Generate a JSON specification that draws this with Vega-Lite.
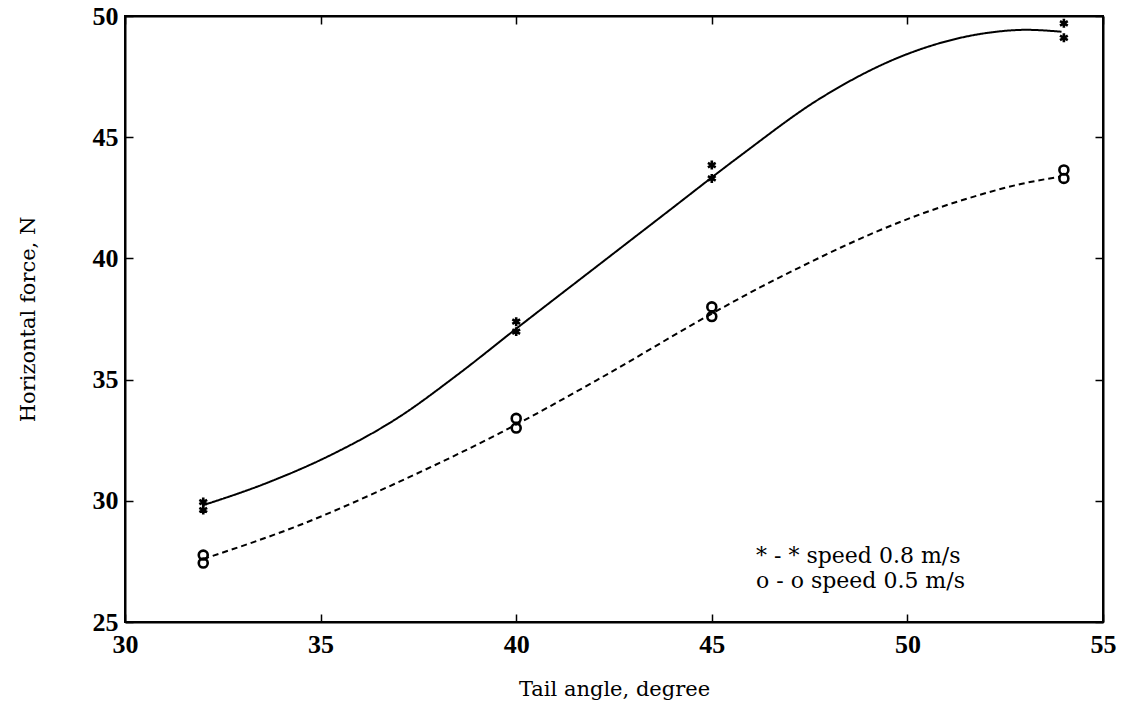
{
  "$schema": "https://vega.github.io/schema/vega-lite/v6.json",
  "width": 978,
  "height": 606,
  "autosize": {"type": "none"},
  "padding": {"left": 125, "top": 16, "right": 24, "bottom": 91},
  "background": "white",
  "config": {
    "view": {"stroke": "black", "strokeWidth": 2},
    "axis": {
      "grid": false,
      "domainColor": "black",
      "domainWidth": 2,
      "tickColor": "black",
      "tickWidth": 1.5,
      "tickSize": -8,
      "labelFlush": false,
      "labelFont": "Liberation Serif",
      "labelFontWeight": "bold",
      "labelFontSize": 26,
      "labelColor": "black",
      "titleFont": "DejaVu Serif",
      "titleFontSize": 21,
      "titleFontWeight": "normal",
      "titleColor": "black"
    }
  },
  "datasets": {
    "curves": [
      {"series": "speed 0.8 m/s", "angle": 32.0, "force": 29.82},
      {"series": "speed 0.8 m/s", "angle": 33.6, "force": 30.72},
      {"series": "speed 0.8 m/s", "angle": 35.3, "force": 31.92},
      {"series": "speed 0.8 m/s", "angle": 37.0, "force": 33.45},
      {"series": "speed 0.8 m/s", "angle": 38.5, "force": 35.2},
      {"series": "speed 0.8 m/s", "angle": 40.0, "force": 37.1},
      {"series": "speed 0.8 m/s", "angle": 42.1, "force": 39.72},
      {"series": "speed 0.8 m/s", "angle": 43.85, "force": 41.9},
      {"series": "speed 0.8 m/s", "angle": 45.7, "force": 44.2},
      {"series": "speed 0.8 m/s", "angle": 47.77, "force": 46.6},
      {"series": "speed 0.8 m/s", "angle": 49.98, "force": 48.42},
      {"series": "speed 0.8 m/s", "angle": 52.03, "force": 49.3},
      {"series": "speed 0.8 m/s", "angle": 53.05, "force": 49.43},
      {"series": "speed 0.8 m/s", "angle": 53.94, "force": 49.35},
      {"series": "speed 0.5 m/s", "angle": 32.0, "force": 27.6},
      {"series": "speed 0.5 m/s", "angle": 34.47, "force": 29.0},
      {"series": "speed 0.5 m/s", "angle": 37.03, "force": 30.8},
      {"series": "speed 0.5 m/s", "angle": 39.59, "force": 32.8},
      {"series": "speed 0.5 m/s", "angle": 42.14, "force": 35.05},
      {"series": "speed 0.5 m/s", "angle": 45.0, "force": 37.72},
      {"series": "speed 0.5 m/s", "angle": 46.23, "force": 38.8},
      {"series": "speed 0.5 m/s", "angle": 47.5, "force": 39.83},
      {"series": "speed 0.5 m/s", "angle": 48.3, "force": 40.45},
      {"series": "speed 0.5 m/s", "angle": 50.0, "force": 41.62},
      {"series": "speed 0.5 m/s", "angle": 51.7, "force": 42.55},
      {"series": "speed 0.5 m/s", "angle": 52.9, "force": 43.07},
      {"series": "speed 0.5 m/s", "angle": 53.9, "force": 43.37}
    ],
    "measurements": [
      {"series": "speed 0.8 m/s", "angle": 32, "force": 29.95},
      {"series": "speed 0.8 m/s", "angle": 32, "force": 29.62},
      {"series": "speed 0.8 m/s", "angle": 40, "force": 37.39},
      {"series": "speed 0.8 m/s", "angle": 40, "force": 36.98},
      {"series": "speed 0.8 m/s", "angle": 45, "force": 43.85},
      {"series": "speed 0.8 m/s", "angle": 45, "force": 43.3},
      {"series": "speed 0.8 m/s", "angle": 54, "force": 49.7},
      {"series": "speed 0.8 m/s", "angle": 54, "force": 49.1},
      {"series": "speed 0.5 m/s", "angle": 32, "force": 27.76},
      {"series": "speed 0.5 m/s", "angle": 32, "force": 27.43},
      {"series": "speed 0.5 m/s", "angle": 40, "force": 33.4},
      {"series": "speed 0.5 m/s", "angle": 40, "force": 33.0},
      {"series": "speed 0.5 m/s", "angle": 45, "force": 38.0},
      {"series": "speed 0.5 m/s", "angle": 45, "force": 37.6},
      {"series": "speed 0.5 m/s", "angle": 54, "force": 43.65},
      {"series": "speed 0.5 m/s", "angle": 54, "force": 43.3}
    ]
  },
  "layer": [
    {
      "data": {"name": "curves"},
      "mark": {"type": "line", "interpolate": "monotone", "strokeWidth": 2, "color": "black"},
      "encoding": {
        "x": {
          "field": "angle", "type": "quantitative",
          "scale": {"domain": [30, 55], "nice": false, "zero": false},
          "axis": {"orient": "bottom", "title": "Tail angle, degree", "values": [30, 35, 40, 45, 50, 55], "labelPadding": 17, "titlePadding": 21}
        },
        "y": {
          "field": "force", "type": "quantitative",
          "scale": {"domain": [25, 50], "nice": false, "zero": false},
          "axis": {"orient": "left", "title": "Horizontal force, N", "values": [25, 30, 35, 40, 45, 50], "labelPadding": 15, "titlePadding": 54}
        },
        "strokeDash": {
          "field": "series", "type": "nominal",
          "scale": {"domain": ["speed 0.8 m/s", "speed 0.5 m/s"], "range": [[1, 0], [6, 4]]},
          "legend": {
            "orient": "none",
            "legendX": 609,
            "legendY": 529,
            "title": null,
            "padding": 0,
            "symbolSize": 0,
            "symbolStrokeWidth": 0,
            "symbolOpacity": 0,
            "labelOffset": 0,
            "labelLimit": 0,
            "rowPadding": 3,
            "labelFont": "DejaVu Serif",
            "labelFontSize": 22,
            "labelColor": "black",
            "labelExpr": "datum.label == 'speed 0.8 m/s' ? '* - * speed 0.8 m/s' : 'o - o speed 0.5 m/s'"
          }
        }
      }
    },
    {
      "data": {"name": "measurements"},
      "mark": {"type": "point", "strokeWidth": 2.6, "color": "black", "opacity": 1},
      "encoding": {
        "x": {
          "field": "angle", "type": "quantitative",
          "scale": {"domain": [30, 55], "nice": false, "zero": false},
          "axis": {"orient": "top", "labels": false, "title": null, "values": [30, 35, 40, 45, 50, 55]}
        },
        "y": {
          "field": "force", "type": "quantitative",
          "scale": {"domain": [25, 50], "nice": false, "zero": false},
          "axis": {"orient": "right", "labels": false, "title": null, "values": [25, 30, 35, 40, 45, 50]}
        },
        "shape": {
          "field": "series", "type": "nominal",
          "scale": {"domain": ["speed 0.8 m/s", "speed 0.5 m/s"], "range": ["M0,-1L0,1M-0.87,-0.5L0.87,0.5M-0.87,0.5L0.87,-0.5", "circle"]},
          "legend": null
        },
        "size": {"value": 80}
      }
    }
  ],
  "resolve": {"axis": {"x": "independent", "y": "independent"}}
}
